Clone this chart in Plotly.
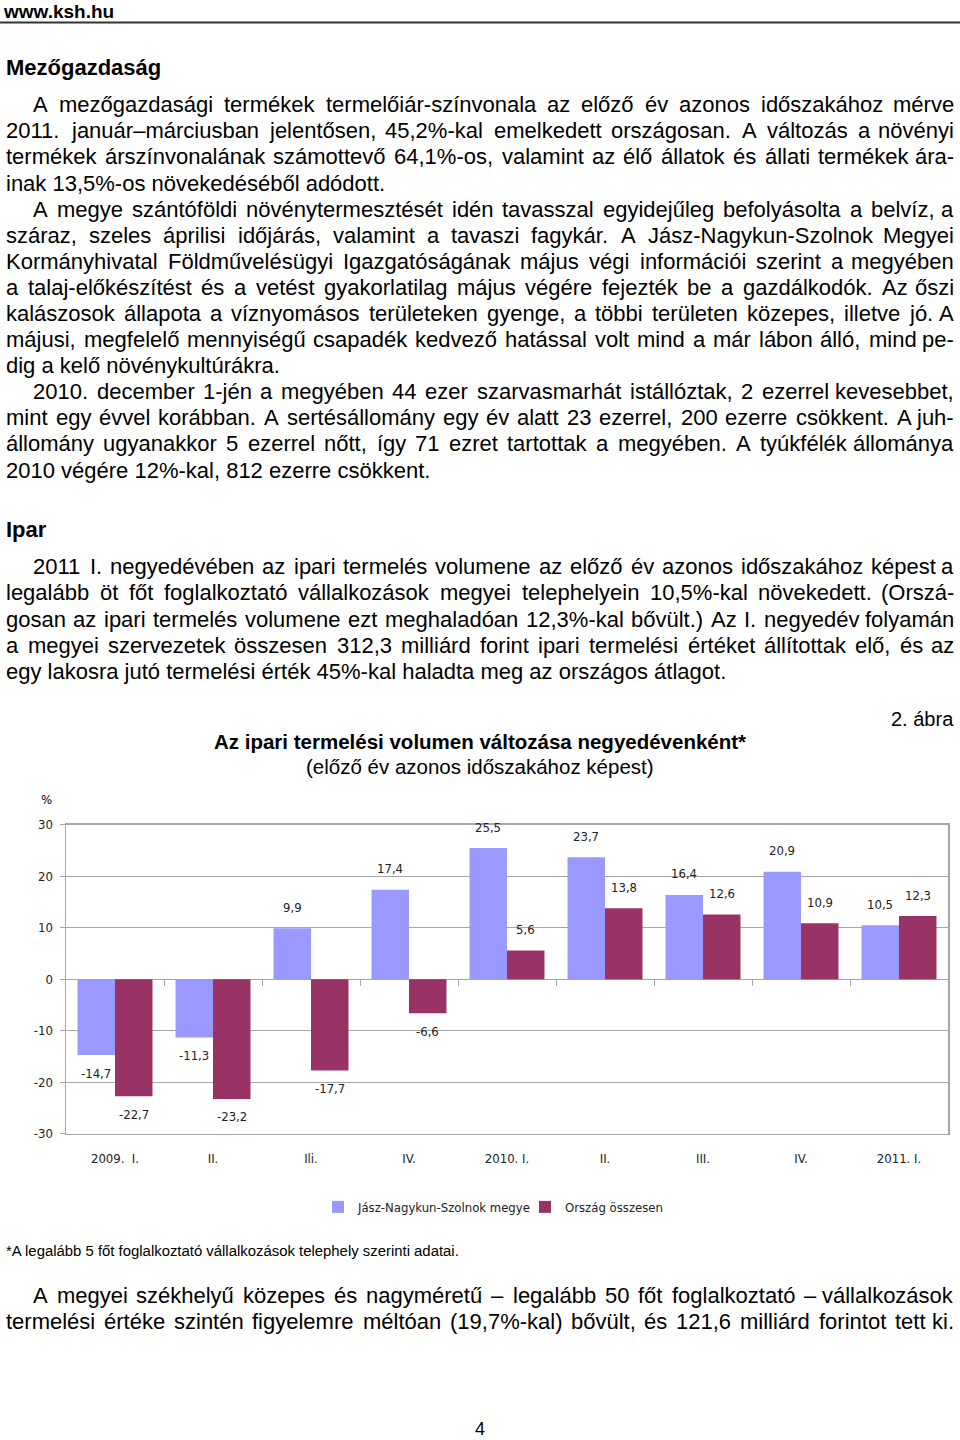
import plotly.graph_objects as go

# ---------------- data ----------------
quarter_labels = ["2009.\u00a0\u00a0I.", "II.", "Ili.", "IV.", "2010. I.", "II.", "III.", "IV.", "2011. I."]
county_values = [-14.7, -11.3, 9.9, 17.4, 25.5, 23.7, 16.4, 20.9, 10.5]
national_values = [-22.7, -23.2, -17.7, -6.6, 5.6, 13.8, 12.6, 10.9, 12.3]
series_names = ["Jász-Nagykun-Szolnok megye", "Ország összesen"]
y_tick_values = [-30, -20, -10, 0, 10, 20, 30]
y_tick_labels = ["-30", "-20", "-10", "0", "10", "20", "30"]

W, H = 960, 1440
BODY = "Liberation Sans, Arial, sans-serif"
NARROW = "Liberation Sans Narrow, Arial Narrow, DejaVu Sans Condensed, sans-serif"
GRID = "#a6a6a6"
BLUE = "#9999FF"
RED = "#993366"

# the capture maps figure pixel y to about 0.9893*y + 6.4; compensate for it
VS, VO = 0.9893, 6.4


def fx(px):
    return px / W


def fy(py):
    return 1 - ((py - VO) / VS) / H


# Arial / Liberation Sans advance widths (per 1000 em)
AW = {' ': 278, '%': 889, '(': 333, ')': 333, '*': 389, ',': 278, '-': 333, '.': 278,
      ':': 278, ';': 278, '–': 556, '—': 1000,
      'A': 667, 'B': 667, 'C': 722, 'D': 722, 'E': 667, 'F': 611, 'G': 778, 'H': 722,
      'I': 278, 'J': 500, 'K': 667, 'L': 556, 'M': 833, 'N': 722, 'O': 778, 'P': 667,
      'Q': 778, 'R': 722, 'S': 667, 'T': 611, 'U': 722, 'V': 667, 'W': 944, 'X': 667,
      'Y': 667, 'Z': 611,
      'a': 556, 'b': 556, 'c': 500, 'd': 556, 'e': 556, 'f': 278, 'g': 556, 'h': 556,
      'i': 222, 'j': 222, 'k': 500, 'l': 222, 'm': 833, 'n': 556, 'o': 556, 'p': 556,
      'q': 556, 'r': 333, 's': 500, 't': 278, 'u': 556, 'v': 500, 'w': 722, 'x': 500,
      'y': 500, 'z': 500,
      'á': 556, 'é': 556, 'í': 278, 'ó': 556, 'ö': 556, 'ő': 556, 'ú': 556, 'ü': 556,
      'ű': 556, 'Á': 667, 'É': 667, 'Í': 278, 'Ó': 778, 'Ö': 778, 'Ő': 778, 'Ú': 722,
      'Ü': 722, 'Ű': 722}


def text_w(s, size):
    return sum(AW.get(c, 556) for c in s) * size / 1000.0


annotations = []


def add_text(text, x, y, anchor='left', size=22, bold=False, family=BODY, color='#000'):
    annotations.append(dict(
        text=f"<b>{text}</b>" if bold else text,
        x=fx(x), y=fy(y), xref='paper', yref='paper',
        xanchor=anchor, yanchor='middle', showarrow=False, borderpad=0,
        font=dict(family=family, size=size, color=color)))


def place_line(line, y, left, right, justify, size=22):
    words = line.split(' ')
    if not justify or len(words) == 1:
        add_text(line, left, y, 'left', size)
        return
    widths = [text_w(w, size) for w in words]
    gap = (right - left - sum(widths)) / (len(words) - 1)
    x = left
    for j, (w, wd) in enumerate(zip(words, widths)):
        if j == len(words) - 1:
            add_text(w, right, y, 'right', size)
        else:
            add_text(w, x, y, 'left', size)
        x += wd + gap


# paragraphs: list of lines (first line indented, last line not justified)
para1 = [
    "A mezőgazdasági termékek termelőiár-színvonala az előző év azonos időszakához mérve",
    "2011. január–márciusban jelentősen, 45,2%-kal emelkedett országosan. A változás a növényi",
    "termékek árszínvonalának számottevő 64,1%-os, valamint az élő állatok és állati termékek ára-",
    "inak 13,5%-os növekedéséből adódott.",
]
para2 = [
    "A megye szántóföldi növénytermesztését idén tavasszal egyidejűleg befolyásolta a belvíz, a",
    "száraz, szeles áprilisi időjárás, valamint a tavaszi fagykár. A Jász-Nagykun-Szolnok Megyei",
    "Kormányhivatal Földművelésügyi Igazgatóságának május végi információi szerint a megyében",
    "a talaj-előkészítést és a vetést gyakorlatilag május végére fejezték be a gazdálkodók. Az őszi",
    "kalászosok állapota a víznyomásos területeken gyenge, a többi területen közepes, illetve jó. A",
    "májusi, megfelelő mennyiségű csapadék kedvező hatással volt mind a már lábon álló, mind pe-",
    "dig a kelő növénykultúrákra.",
]
para3 = [
    "2010. december 1-jén a megyében 44 ezer szarvasmarhát istállóztak, 2 ezerrel kevesebbet,",
    "mint egy évvel korábban. A sertésállomány egy év alatt 23 ezerrel, 200 ezerre csökkent. A juh-",
    "állomány ugyanakkor 5 ezerrel nőtt, így 71 ezret tartottak a megyében. A tyúkfélék állománya",
    "2010 végére 12%-kal, 812 ezerre csökkent.",
]
para4 = [
    "2011 I. negyedévében az ipari termelés volumene az előző év azonos időszakához képest a",
    "legalább öt főt foglalkoztató vállalkozások megyei telephelyein 10,5%-kal növekedett. (Orszá-",
    "gosan az ipari termelés volumene ezt meghaladóan 12,3%-kal bővült.) Az I. negyedév folyamán",
    "a megyei szervezetek összesen 312,3 milliárd forint ipari termelési értéket állítottak elő, és az",
    "egy lakosra jutó termelési érték 45%-kal haladta meg az országos átlagot.",
]
para5 = [
    "A megyei székhelyű közepes és nagyméretű – legalább 50 főt foglalkoztató – vállalkozások",
    "termelési értéke szintén figyelemre méltóan (19,7%-kal) bővült, és 121,6 milliárd forintot tett ki.",
]


def place_para(lines, y0, step=26.13, last_justified=False):
    for i, line in enumerate(lines):
        left = 32 if i == 0 else 5
        last = i == len(lines) - 1
        place_line(line, y0 + i * step, left, 955, (not last) or last_justified)


# header
add_text("www.ksh.hu", 2, 11, 'left', 19, bold=True)
add_text("Mezőgazdaság", 5, 67, 'left', 22, bold=True)
place_para(para1, 104)
place_para(para2, 208.5)
place_para(para3, 391)
add_text("Ipar", 5, 529, 'left', 22, bold=True)
place_para(para4, 566)

# chart texts
add_text("2. ábra", 955, 718, 'right', 20)
add_text("Az ipari termelési volumen változása negyedévenként*", 480, 741, 'center', 20.5, bold=True)
add_text("(előző év azonos időszakához képest)", 480, 766, 'center', 20.5)
add_text("%", 40, 799, 'left', 13, family=NARROW)
add_text("*A legalább 5 főt foglalkoztató vállalkozások telephely szerinti adatai.", 5, 1250, 'left', 14.9)
place_para(para5, 1295, step=26, last_justified=True)
add_text("4", 480, 1428, 'center', 18)

# ---------------- chart ----------------
xs = list(range(len(quarter_labels)))
plot_left, plot_right = 66, 948
plot_top, plot_bottom = 824, 1133
bargap = 0.235
cat_px = (plot_right - plot_left) / len(xs)
bar_half = cat_px * (1 - bargap) / 4


def fmt(v):
    return f"{v:.1f}".replace('.', ',')


for vals, sh in ((county_values, -bar_half), (national_values, bar_half)):
    for x, v in zip(xs, vals):
        annotations.append(dict(
            text=fmt(v), x=x, y=v, xref='x', yref='y', xshift=sh,
            yshift=21 if v > 0 else -18, showarrow=False, xanchor='center', yanchor='middle',
            font=dict(family=NARROW, size=13, color='#222')))

fig = go.Figure()
fig.add_trace(go.Bar(x=xs, y=county_values, name=series_names[0], legend='legend',
                     marker=dict(color=BLUE, line=dict(width=0))))
fig.add_trace(go.Bar(x=xs, y=national_values, name=series_names[1], legend='legend2',
                     marker=dict(color=RED, line=dict(width=0))))
fig.add_trace(go.Scatter(x=[], y=[], xaxis='x2', showlegend=False, hoverinfo='skip'))

dom_x = [fx(plot_left), fx(plot_right)]
dom_y = [fy(plot_bottom), fy(plot_top)]
zero_frac = dom_y[0] + (dom_y[1] - dom_y[0]) * (0 - (-30)) / 60

legend_common = dict(orientation='h', xanchor='left', y=fy(1206), yanchor='middle',
                     font=dict(family=NARROW, size=13, color='#222'), itemwidth=30,
                     bgcolor='rgba(0,0,0,0)')

fig.update_layout(
    width=W, height=H,
    margin=dict(l=0, r=0, t=0, b=0),
    paper_bgcolor='white', plot_bgcolor='white',
    barmode='group', bargap=bargap, bargroupgap=0,
    showlegend=True,
    legend=dict(x=fx(332 - 14), **legend_common),
    legend2=dict(x=fx(539 - 14), **legend_common),
    xaxis=dict(domain=dom_x, range=[-0.5, len(xs) - 0.5], tickmode='array', tickvals=xs,
               ticktext=quarter_labels, showgrid=False, showline=True, linecolor=GRID, linewidth=1.5,
               mirror=True, ticks='', ticklabelstandoff=12, zeroline=False,
               tickfont=dict(family=NARROW, size=13, color='#222')),
    xaxis2=dict(domain=dom_x, range=[-0.5, len(xs) - 0.5], overlaying='x', anchor='free',
                position=zero_frac, side='bottom', tickmode='array',
                tickvals=[x + 0.5 for x in xs[:-1]], ticks='outside', ticklen=6, tickcolor=GRID,
                showticklabels=False, showgrid=False, showline=False, zeroline=False),
    yaxis=dict(domain=dom_y, range=[-30, 30], tickmode='array', tickvals=y_tick_values,
               ticktext=y_tick_labels,
               showgrid=True, gridcolor=GRID, gridwidth=1, showline=True, linecolor=GRID, linewidth=1.5,
               mirror=True, ticks='outside', ticklen=5, tickcolor=GRID, zeroline=True,
               zerolinecolor=GRID, zerolinewidth=1.5, ticklabelstandoff=4,
               tickfont=dict(family=NARROW, size=13, color='#222')),
    annotations=annotations,
    shapes=[dict(type='line', xref='paper', yref='paper', x0=0, x1=1, y0=fy(22), y1=fy(22),
                 line=dict(color='#333', width=2))],
)

post = ("document.documentElement.style.margin='0';document.documentElement.style.padding='0';"
        "document.body.style.margin='0';document.body.style.padding='0';"
        "document.body.style.overflow='hidden';"
        "var d=document.getElementById('{plot_id}');d.style.position='fixed';"
        "d.style.left='0px';d.style.top='0px';")

fig.write_html("out.html", config={'displayModeBar': False, 'staticPlot': True}, post_script=post)
